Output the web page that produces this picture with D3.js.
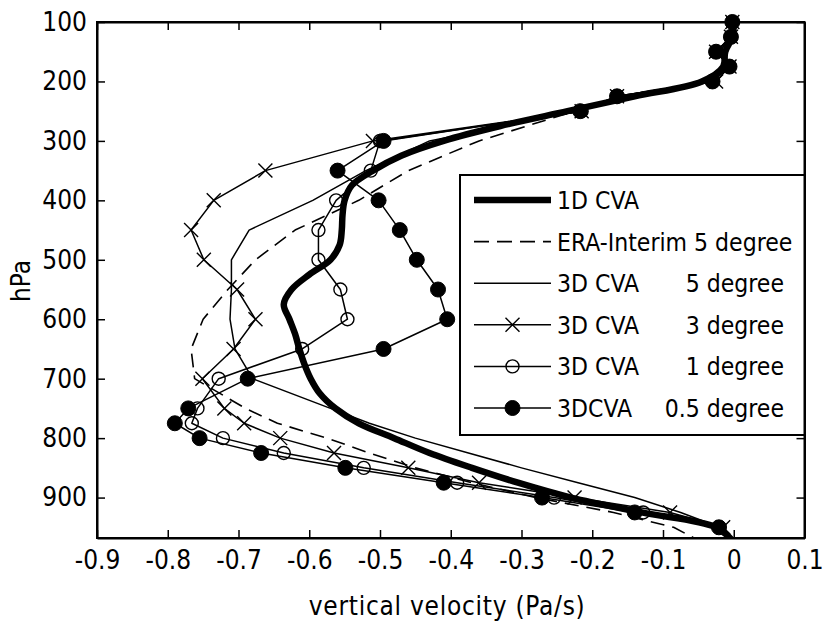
<!DOCTYPE html>
<html><head><meta charset="utf-8">
<script src="https://cdn.jsdelivr.net/npm/d3@7"></script>
<style>
body{margin:0;background:#fff;}
svg text{font-family:"Liberation Sans Narrow","Arial Narrow","DejaVu Sans Condensed","Liberation Sans",sans-serif;fill:#000;}
</style></head>
<body><svg id="chart" width="827" height="627"></svg>
<script>
// ---- data ----
const levels = [100,125,150,175,200,225,250,300,350,400,450,500,550,600,650,700,750,775,800,825,850,875,900,925,950];
const levelsExt = [100,125,150,175,200,225,250,300,350,400,450,500,550,600,650,700,750,775,800,825,850,875,900,925,950,975];
const levels1D = [100,125,150,175,200,225,250,275,300,325,350,375,400,425,450,475,500,525,550,575,600,625,650,675,700,725,750,775,800,825,850,875,900,925,950,975];

const cva1D = [0,-0.002,-0.012,-0.015,-0.045,-0.14,-0.235,-0.33,-0.41,-0.47,-0.51,-0.54,-0.55,-0.553,-0.554,-0.557,-0.57,-0.6,-0.625,-0.636,-0.628,-0.62,-0.614,-0.607,-0.598,-0.585,-0.563,-0.53,-0.48,-0.43,-0.37,-0.305,-0.23,-0.13,-0.025,0.0];
const eraInterim5 = [-0.003,-0.005,-0.02,-0.008,-0.04,-0.15,-0.225,-0.36,-0.46,-0.53,-0.62,-0.676,-0.715,-0.75,-0.767,-0.762,-0.69,-0.645,-0.575,-0.515,-0.45,-0.37,-0.28,-0.17,-0.085,-0.045];
const cva3D_5 = [-0.002,-0.004,-0.02,-0.006,-0.035,-0.16,-0.22,-0.43,-0.52,-0.595,-0.685,-0.71,-0.71,-0.712,-0.705,-0.68,-0.57,-0.515,-0.45,-0.375,-0.30,-0.22,-0.14,-0.075,-0.02,0.005];
const cva3D_3 = [-0.002,-0.004,-0.025,-0.006,-0.025,-0.165,-0.215,-0.51,-0.662,-0.735,-0.767,-0.749,-0.702,-0.676,-0.707,-0.751,-0.72,-0.692,-0.641,-0.565,-0.46,-0.36,-0.225,-0.09,-0.015];
const cva3D_1 = [-0.002,-0.004,-0.025,-0.006,-0.03,-0.165,-0.215,-0.50,-0.513,-0.562,-0.587,-0.587,-0.556,-0.546,-0.61,-0.728,-0.758,-0.766,-0.722,-0.636,-0.523,-0.391,-0.254,-0.128,-0.02];
const cva3D_05 = [-0.002,-0.004,-0.025,-0.006,-0.03,-0.165,-0.217,-0.495,-0.56,-0.502,-0.472,-0.448,-0.418,-0.405,-0.495,-0.687,-0.771,-0.79,-0.755,-0.668,-0.549,-0.41,-0.271,-0.14,-0.021];

const xTicks = [-0.9,-0.8,-0.7,-0.6,-0.5,-0.4,-0.3,-0.2,-0.1,0,0.1];
const yTicks = [100,200,300,400,500,600,700,800,900];
const legendNames = ["1D CVA","ERA-Interim 5 degree","3D CVA","3D CVA","3D CVA","3DCVA"];
const legendRes = ["","","5 degree","3 degree","1 degree","0.5 degree"];

// ---- layout ----
const W=827,H=627, m={l:97,t:22,r:22.5,b:89};
const svg=d3.select("#chart");
const x=d3.scaleLinear().domain([-0.9,0.1]).range([m.l,W-m.r]);
const y=d3.scaleLinear().domain([100,968]).range([m.t,H-m.b]);

svg.append("defs").append("clipPath").attr("id","clip")
  .append("rect").attr("x",m.l).attr("y",m.t).attr("width",W-m.r-m.l).attr("height",H-m.b-m.t);

const series=[
  {lv:levels1D, v:cva1D, w:6.5, dash:null, mk:null},
  {lv:levelsExt, v:eraInterim5, w:1.6, dash:"14,8", mk:null},
  {lv:levelsExt, v:cva3D_5, w:1.5, dash:null, mk:null},
  {lv:levels, v:cva3D_3, w:1.5, dash:null, mk:"x"},
  {lv:levels, v:cva3D_1, w:1.5, dash:null, mk:"o"},
  {lv:levels, v:cva3D_05, w:1.5, dash:null, mk:"dot"}
];

const line=d3.line().x(d=>x(d[1])).y(d=>y(d[0]));
const line1D=d3.line().x(d=>x(d[1])).y(d=>y(d[0])).curve(d3.curveCatmullRom);

function marker(g,type,cx,cy){
  if(type==="x"){
    const s=7;
    g.append("path").attr("d",`M${cx-s},${cy-s}L${cx+s},${cy+s}M${cx-s},${cy+s}L${cx+s},${cy-s}`)
     .attr("stroke","#000").attr("stroke-width",1.4).attr("fill","none");
  } else if(type==="o"){
    g.append("circle").attr("cx",cx).attr("cy",cy).attr("r",6.5).attr("fill","none").attr("stroke","#000").attr("stroke-width",1.4);
  } else if(type==="dot"){
    g.append("circle").attr("cx",cx).attr("cy",cy).attr("r",7.5).attr("fill","#000").attr("stroke","#000").attr("stroke-width",1);
  }
}

const plot=svg.append("g");
series.forEach((s,i)=>{
  const pts=s.lv.map((p,j)=>[p,s.v[j]]);
  plot.append("path").attr("clip-path","url(#clip)")
    .attr("d",(i===0?line1D:line)(pts))
    .attr("fill","none").attr("stroke","#000").attr("stroke-width",s.w)
    .attr("stroke-dasharray",s.dash).attr("stroke-linejoin","round");
  if(s.mk){
    const g=plot.append("g");
    pts.forEach(d=>marker(g,s.mk,x(d[1]),y(d[0])));
  }
});

// ---- axes ----
const fs=26;
const ax=svg.append("g").attr("transform",`translate(0,${H-m.b})`)
  .call(d3.axisBottom(x).tickValues(xTicks).tickFormat(d=>d===0?"0":d3.format(".1f")(d).replace("−","-")).tickSizeInner(-8).tickSizeOuter(0).tickPadding(13));
const at=svg.append("g").attr("transform",`translate(0,${m.t})`)
  .call(d3.axisTop(x).tickValues(xTicks).tickFormat("").tickSizeInner(-8).tickSizeOuter(0));
const al=svg.append("g").attr("transform",`translate(${m.l},0)`)
  .call(d3.axisLeft(y).tickValues(yTicks).tickSizeInner(-8).tickSizeOuter(0).tickPadding(10));
const ar=svg.append("g").attr("transform",`translate(${W-m.r},0)`)
  .call(d3.axisRight(y).tickValues(yTicks).tickFormat("").tickSizeInner(-8).tickSizeOuter(0));
[ax,at,al,ar].forEach(g=>{
  g.select(".domain").attr("stroke","#000").attr("stroke-width",2);
  g.selectAll(".tick line").attr("stroke","#000").attr("stroke-width",1.5);
  g.selectAll("text").attr("font-size",fs).attr("font-family",null).style("fill","#000");
});
svg.append("rect").attr("x",m.l).attr("y",m.t).attr("width",W-m.r-m.l).attr("height",H-m.b-m.t)
  .attr("fill","none").attr("stroke","#000").attr("stroke-width",2);

svg.append("text").attr("x",(m.l+W-m.r)/2-4).attr("y",615).attr("text-anchor","middle")
  .attr("font-size",fs).attr("textLength",276).text("vertical velocity (Pa/s)");
svg.append("text").attr("transform",`translate(30,281) rotate(-90)`).attr("text-anchor","middle")
  .attr("font-size",fs).text("hPa");

// ---- legend ----
const lfs=24.5;
const lg=svg.append("g");
lg.append("rect").attr("x",460).attr("y",175).attr("width",W-m.r-460).attr("height",260)
  .attr("fill","#fff").attr("stroke","#000").attr("stroke-width",2);
series.forEach((s,i)=>{
  const cy=200+i*41.6;
  lg.append("line").attr("x1",474).attr("x2",551).attr("y1",cy).attr("y2",cy)
    .attr("stroke","#000").attr("stroke-width",s.w).attr("stroke-dasharray",s.dash?"15,8":null);
  if(s.mk) marker(lg,s.mk,512.5,cy);
  lg.append("text").attr("x",557).attr("y",cy+9).attr("font-size",lfs).text(legendNames[i]);
  if(legendRes[i]) lg.append("text").attr("x",784).attr("y",cy+9).attr("text-anchor","end").attr("font-size",lfs).text(legendRes[i]);
});
</script></body></html>
